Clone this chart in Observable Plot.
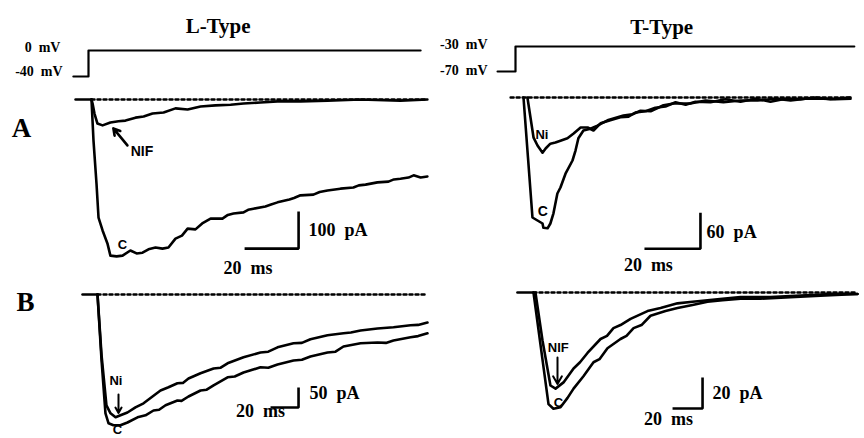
<!DOCTYPE html>
<html><head><meta charset="utf-8">
<script src="https://cdn.jsdelivr.net/npm/d3@7"></script>
<script src="https://cdn.jsdelivr.net/npm/@observablehq/plot@0.6"></script>
<style>
body{margin:0;background:#fff}
#fig{position:relative;width:864px;height:438px;overflow:hidden;background:#fff}
#fig svg{position:absolute;left:0;top:0}
</style></head><body><div id="fig"></div>
<script>
// ---------- data: [time (ms), current (pA)] ----------
const voltL = [[-5.6,-40],[0,-40],[0,0],[123,0]];      // mV
const voltT = [[-6.4,-70],[0,-70],[0,-30],[121,-30]];  // mV

const aL_C = [[0,0],[0.74,-111],[1.85,-227],[2.6,-319],[4.1,-354],[5.9,-389],[7.0,-422],[9.3,-424],[11.5,-422],[14.4,-408],[16.7,-416],[18.9,-414],[21.1,-405],[23.7,-400],[26.3,-403],[28.5,-400],[31.1,-376],[33.5,-368],[35.6,-349],[38.5,-351],[41,-335],[44.1,-322],[48.5,-322],[50.5,-312],[52.6,-308],[56.3,-305],[58,-298],[60,-295],[64.4,-289],[66.5,-284],[68.9,-278],[73.3,-270],[75,-266],[77.4,-259],[82.2,-257],[84.5,-250],[87.4,-246],[92.2,-241],[97,-238],[99,-232],[101.5,-230],[105.9,-224],[110,-222],[112,-216],[114.4,-214],[117.4,-211],[119.3,-205],[121.9,-211],[124.4,-208]];
const aL_NIF = [[0,0],[0.4,-11],[1.1,-38],[2.2,-65],[4.1,-70],[7.0,-62],[10,-59],[12.6,-57],[16.3,-49],[19.3,-46],[22.6,-38],[26.7,-35],[31.1,-24],[35.6,-27],[40.4,-19],[45.9,-16],[51.5,-14],[56.3,-11],[62.6,-8],[68.9,-5],[77.4,-5],[87.4,-3],[99.6,0],[114.4,-3],[124.4,0]];

const aT_C = [[0,0],[1.6,-100],[3.2,-200],[5.0,-205],[6.8,-210],[7.1,-217],[8.6,-218],[9.6,-210],[10.7,-193],[12.1,-160],[13.2,-150],[15,-127],[17.5,-105],[18.6,-88],[19.6,-68],[21.4,-55],[23.9,-52],[26.4,-47],[30,-38],[33.6,-33],[35.7,-30],[38.9,-28],[41.8,-22],[45.4,-23],[50,-13],[53.6,-10],[59.6,-10],[65,-5],[71.4,-8],[77.5,-5],[83.6,-5],[90,-2],[95.4,-5],[100.7,-2],[107,-2],[111.4,-3],[116.8,-2]];
const aT_Ni = [[1.4,0],[3.6,-67],[5,-80],[6.8,-92],[7.9,-85],[9.6,-77],[11.4,-75],[13.2,-72],[15.7,-68],[17.9,-60],[20.4,-50],[22.9,-50],[25,-55],[27.5,-43],[31,-38],[34.6,-33],[37.5,-32],[40,-25],[43.6,-23],[47.1,-17],[50.7,-15],[54.3,-8],[57.9,-12],[61.4,-7],[66.8,-8],[72.1,-3],[77.5,-7],[82.9,-2],[88.2,-7],[93.6,-2],[98.9,-3],[104.3,0],[109.6,-3],[116.8,0]];

const bL_C = [[0,0],[2.9,-165],[5.7,-297],[7.9,-322],[11.4,-327],[16.4,-327],[21.4,-320],[28.6,-307],[34.3,-302],[40,-290],[44,-288],[48.6,-277],[57.1,-265],[60,-266],[65,-255],[73.6,-240],[78,-238],[82.9,-227],[92.9,-207],[98,-205],[104.3,-195],[116.4,-182],[122,-183],[128.6,-175],[140,-165],[146,-163],[152.1,-155],[164.3,-145],[170,-143],[175.7,-130],[187.9,-122],[200,-120],[206,-121],[211.4,-115],[223.6,-107],[229,-104],[235.7,-97]];
const bL_Ni = [[0,0],[2.9,-152],[6.4,-277],[9.3,-297],[12.9,-307],[16.4,-302],[21.4,-295],[27.1,-282],[32.9,-272],[39.3,-255],[45,-240],[50.7,-232],[57.1,-222],[61,-221],[65,-210],[73.6,-197],[82.9,-185],[88,-183],[92.9,-172],[104.3,-157],[116.4,-145],[122,-143],[128.6,-132],[140,-122],[146,-121],[152.1,-112],[164.3,-102],[175.7,-97],[181,-95],[187.9,-90],[200,-85],[211.4,-82],[223.6,-77],[229,-76],[235.7,-70]];

const bT_C = [[0,0],[4.7,-34],[10,-72],[13.3,-75],[18,-74],[22.7,-68],[26.7,-62],[33.3,-54],[40,-45],[44,-43],[49.3,-36],[58,-30],[62,-28],[66.7,-23],[72,-21],[78,-15],[88,-12],[96,-10],[106,-8],[116,-6],[126,-5],[138,-4],[151.3,-4],[171.3,-3],[191.3,-2],[216,-1]];
const bT_NIF = [[1.3,0],[6,-31],[11.3,-60],[14.7,-62],[20,-58],[26.7,-49],[31,-45],[36,-39],[44.7,-30],[49,-28],[53.3,-23],[58,-21],[64.7,-17],[76,-12],[84.7,-10],[96,-7],[106,-6],[116,-5],[126,-4],[138,-3],[158,-3],[178,-2],[198,-1],[216,-1]];

// scale bars: [ms, pA]
const barsMs = [20, 20, 20, 20];
const barsPA = [100, 60, 50, 20];

// ---------- layout helpers ----------
const W = 864, H = 438;
const fig = document.getElementById("fig");
function panel(cfg, marks) {
  const svg = Plot.plot({
    width: W, height: H, margin: 0,
    style: {background: "transparent", overflow: "visible", maxWidth: "none"},
    x: {domain: [-cfg.ox / cfg.kx, (W - cfg.ox) / cfg.kx], axis: null},
    y: {domain: [(cfg.oy - H) / cfg.ky, cfg.oy / cfg.ky], axis: null},
    marks
  });
  fig.appendChild(svg);
}
const serif = "'Liberation Serif', 'Times New Roman', serif";
const sans = "'Liberation Sans', Arial, sans-serif";
const tr = {stroke: "black", strokeWidth: 2.6, strokeLinejoin: "round", strokeLinecap: "round"};
const dots = {stroke: "black", strokeWidth: 2.5, strokeDasharray: "3,3"};
const txt = (d, o) => Plot.text([d], {x: "x", y: "y", text: "t", fill: "black", fontWeight: "bold", lineAnchor: "middle", ...o});
function scaleBar(tc, ic, ms, pa) { // corner at (tc, ic)
  return Plot.line([[tc - ms, ic], [tc, ic], [tc, ic + pa]], {...tr, strokeLinecap: "butt", strokeLinejoin: "miter"});
}
const sp = "\u00a0\u00a0";
const barFont = {fontFamily: serif, fontSize: 18};
const mvFont = {textAnchor: "end", fontFamily: serif, fontSize: 14};

// ---------- voltage protocols ----------
panel({ox: 88, kx: 2.7, oy: 50, ky: 0.65}, [
  Plot.line(voltL, {...tr, strokeWidth: 2.2}),
  txt({x: -10.4, y: 4.6, t: "0" + sp + "mV"}, mvFont),
  txt({x: -9.6, y: -32, t: "-40" + sp + "mV"}, mvFont),
  txt({x: 48, y: 26.2, t: "L-Type"}, {lineAnchor: "bottom", fontFamily: serif, fontSize: 21})
]);
panel({ox: 515, kx: 2.8, oy: 27.25, ky: 0.625}, [
  Plot.line(voltT, {...tr, strokeWidth: 2.2}),
  txt({x: -10, y: -26.8, t: "-30" + sp + "mV"}, mvFont),
  txt({x: -10, y: -68.4, t: "-70" + sp + "mV"}, mvFont),
  txt({x: 52.2, y: -9.2, t: "T-Type"}, {lineAnchor: "bottom", fontFamily: serif, fontSize: 21})
]);

// ---------- A: L-type ----------
panel({ox: 91, kx: 2.7, oy: 99, ky: 0.37}, [
  Plot.line([[-5.9, 0], [0, 0]], tr),
  Plot.line([[0, 0], [124.4, 0]], dots),
  Plot.line(aL_NIF, tr),
  Plot.line(aL_C, tr),
  Plot.arrow([{x1: 13.3, y1: -124, x2: 8.1, y2: -78}], {x1: "x1", y1: "y1", x2: "x2", y2: "y2", stroke: "black", strokeWidth: 2.6, headLength: 9, bend: 0}),
  txt({x: 14.5, y: -140, t: "NIF"}, {textAnchor: "start", fontFamily: sans, fontSize: 14}),
  txt({x: 11.5, y: -392, t: "C"}, {fontFamily: sans, fontSize: 13}),
  scaleBar(76.7, -403, barsMs[0], barsPA[0]),
  txt({x: 80.4, y: -354, t: barsPA[0] + sp + "pA"}, {textAnchor: "start", ...barFont}),
  txt({x: 58, y: -457, t: barsMs[0] + sp + "ms"}, barFont),
  txt({x: -25.9, y: -102.7, t: "A"}, {lineAnchor: "bottom", fontFamily: serif, fontSize: 27})
]);

// ---------- A: T-type ----------
panel({ox: 523, kx: 2.8, oy: 97, ky: 0.6}, [
  Plot.line([[-4.6, 0], [116.8, 0]], dots),
  Plot.line(aT_C, tr),
  Plot.line(aT_Ni, tr),
  txt({x: 6.6, y: -63, t: "Ni"}, {fontFamily: sans, fontSize: 13}),
  txt({x: 6.9, y: -190, t: "C"}, {fontFamily: sans, fontSize: 14}),
  scaleBar(63.2, -252, barsMs[1], barsPA[1]),
  txt({x: 65.4, y: -225, t: barsPA[1] + sp + "pA"}, {textAnchor: "start", ...barFont}),
  txt({x: 44.6, y: -280, t: barsMs[1] + sp + "ms"}, barFont)
]);

// ---------- B: L-type ----------
panel({ox: 97, kx: 1.4, oy: 294, ky: 0.4}, [
  Plot.line([[-10.7, 0], [0, 0]], tr),
  Plot.line([[0, 0], [235.7, 0]], dots),
  Plot.line(bL_C, tr),
  Plot.line(bL_Ni, tr),
  txt({x: 13.2, y: -215, t: "Ni"}, {fontFamily: sans, fontSize: 13}),
  Plot.arrow([{x1: 15, y1: -250, x2: 15, y2: -296}], {x1: "x1", y1: "y1", x2: "x2", y2: "y2", stroke: "black", strokeWidth: 2, headLength: 7}),
  txt({x: 14.3, y: -338, t: "C"}, {fontFamily: sans, fontSize: 13}),
  scaleBar(143.6, -282.5, barsMs[2], barsPA[2]),
  txt({x: 151.4, y: -247.5, t: barsPA[2] + sp + "pA"}, {textAnchor: "start", ...barFont}),
  txt({x: 116.4, y: -293, t: barsMs[2] + sp + "ms"}, barFont),
  txt({x: -51.4, y: -40, t: "B"}, {lineAnchor: "bottom", fontFamily: serif, fontSize: 27})
]);

// ---------- B: T-type ----------
panel({ox: 533, kx: 1.5, oy: 292, ky: 1.55}, [
  Plot.line([[-10.7, 0], [0, 0]], tr),
  Plot.line([[0, 0], [216, 0]], dots),
  Plot.line(bT_C, tr),
  Plot.line(bT_NIF, tr),
  txt({x: 16.5, y: -35.5, t: "NIF"}, {fontFamily: sans, fontSize: 13}),
  Plot.arrow([{x1: 16, y1: -42, x2: 16, y2: -59}], {x1: "x1", y1: "y1", x2: "x2", y2: "y2", stroke: "black", strokeWidth: 2, headLength: 7}),
  txt({x: 16.7, y: -71, t: "C"}, {fontFamily: sans, fontSize: 13}),
  scaleBar(112.7, -74.8, barsMs[3], barsPA[3]),
  txt({x: 119.3, y: -65, t: barsPA[3] + sp + "pA"}, {textAnchor: "start", ...barFont}),
  txt({x: 90, y: -82, t: barsMs[3] + sp + "ms"}, barFont)
]);
</script></body></html>
